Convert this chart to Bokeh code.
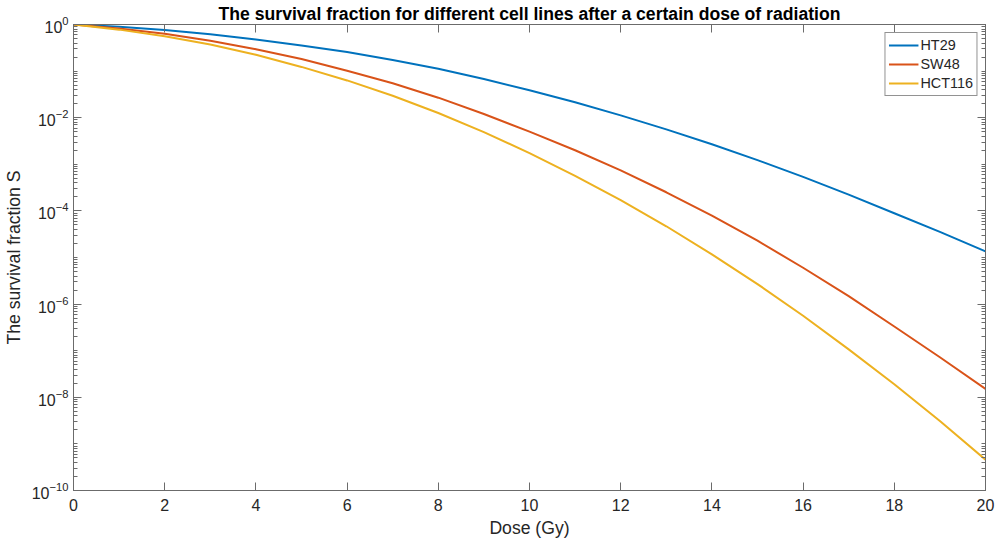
from bokeh.plotting import figure
from bokeh.models import Range1d, FixedTicker, LinearAxis, LogAxis, CustomJSTickFormatter, LogTickFormatter
from bokeh.embed import file_html
from bokeh.resources import INLINE

# ---- data ----
dose = [0, 1, 2, 3, 4, 5, 6, 7, 8, 9, 10, 11, 12, 13, 14, 15, 16, 17, 18, 19, 20]
ht29 = [1.0, 0.891, 0.759, 0.617, 0.479, 0.355, 0.257, 0.174, 0.112, 6.76e-2,
        3.89e-2, 2.14e-2, 1.12e-2, 5.62e-3, 2.69e-3, 1.23e-3, 5.37e-4, 2.24e-4,
        8.91e-5, 3.55e-5, 1.35e-5]
sw48 = [1.0, 0.822, 0.631, 0.447, 0.295, 0.182, 0.102, 5.50e-2, 2.69e-2, 1.20e-2,
        5.01e-3, 2.00e-3, 7.41e-4, 2.51e-4, 7.94e-5, 2.29e-5, 6.03e-6, 1.48e-6,
        3.31e-7, 7.24e-8, 1.51e-8]
hct116 = [1.0, 0.776, 0.562, 0.372, 0.224, 0.123, 6.31e-2, 2.95e-2, 1.26e-2, 4.90e-3,
          1.74e-3, 5.62e-4, 1.70e-4, 4.68e-5, 1.17e-5, 2.69e-6, 5.62e-7, 1.07e-7,
          1.91e-8, 3.09e-9, 4.57e-10]
series_names = ["HT29", "SW48", "HCT116"]
series_colors = ["#0072BD", "#D95319", "#EDB120"]
x_ticks = [0, 2, 4, 6, 8, 10, 12, 14, 16, 18, 20]
y_major = [1e-10, 1e-8, 1e-6, 1e-4, 1e-2, 1.0]
y_minor = [k * 10.0 ** n for n in range(-10, 0) for k in range(1, 10)]

FONT = "Liberation Sans"
AX = "#6b6b6b"
TXT = "#262626"

p = figure(width=995, height=544, output_backend="svg", toolbar_location=None,
           y_axis_type="log", x_range=Range1d(0, 20), y_range=Range1d(1e-10, 1.0),
           min_border_left=73, min_border_right=10, min_border_top=22, min_border_bottom=54,
           background_fill_color="white", border_fill_color="white")

p.title.text = "The survival fraction for different cell lines after a certain dose of radiation"
p.title.align = "center"
p.title.text_font = FONT
p.title.text_font_size = "17.6px"
p.title.text_font_style = "bold"
p.title.text_color = "black"
p.title.standoff = 2
p.title.offset = 0

p.grid.visible = False
p.outline_line_color = AX
p.outline_line_width = 1

for data, name, col in zip([ht29, sw48, hct116], series_names, series_colors):
    p.line(dose, data, line_color=col, line_width=2, legend_label=name,
           line_join="round")

# bottom axis
xa = p.xaxis[0]
xa.ticker = FixedTicker(ticks=x_ticks)
xa.axis_label = "Dose (Gy)"
# left axis
ya = p.yaxis[0]
ya.ticker = FixedTicker(ticks=y_major, minor_ticks=y_minor)
ya.formatter = LogTickFormatter()
ya.axis_label = "The survival fraction S"

for ax in (xa, ya):
    ax.axis_line_color = AX
    ax.major_tick_line_color = AX
    ax.minor_tick_line_color = AX
    ax.major_tick_in = 8
    ax.major_tick_out = 0
    ax.minor_tick_in = 4
    ax.minor_tick_out = 0
    ax.major_label_text_font = FONT
    ax.major_label_text_font_size = "16px"
    ax.major_label_text_color = TXT
    ax.axis_label_text_font = FONT
    ax.axis_label_text_font_size = "17.6px"
    ax.axis_label_text_font_style = "normal"
    ax.axis_label_text_color = TXT
xa.minor_tick_line_color = None
xa.major_label_standoff = 8
xa.axis_label_standoff = 4
ya.major_label_standoff = 5
ya.axis_label_standoff = 5

blank = CustomJSTickFormatter(code="return ''")
top = LinearAxis(ticker=FixedTicker(ticks=x_ticks), formatter=blank,
                 axis_line_color=AX, major_tick_line_color=AX, minor_tick_line_color=None,
                 major_tick_in=8, major_tick_out=0, major_label_standoff=0)
right = LogAxis(ticker=FixedTicker(ticks=y_major, minor_ticks=y_minor), formatter=blank,
                axis_line_color=AX, major_tick_line_color=AX, minor_tick_line_color=AX,
                major_tick_in=8, major_tick_out=0, minor_tick_in=4, minor_tick_out=0,
                major_label_standoff=0)
p.add_layout(top, "above")
p.add_layout(right, "right")

lg = p.legend[0]
lg.location = "top_right"
lg.margin = 8
lg.padding = 3
lg.spacing = 1
lg.glyph_width = 30
lg.glyph_height = 18
lg.label_height = 18
lg.label_standoff = 2
lg.label_text_font = FONT
lg.label_text_font_size = "14.4px"
lg.label_text_color = TXT
lg.border_line_color = TXT
lg.border_line_width = 1
lg.background_fill_color = "white"
lg.background_fill_alpha = 1.0

open("out.html", "w").write(file_html(p, INLINE))
